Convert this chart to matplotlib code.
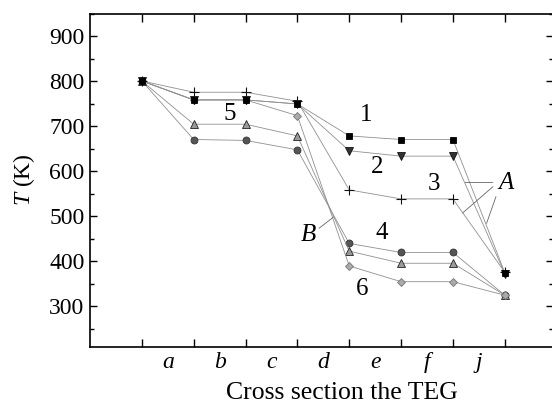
import numpy as np
import matplotlib
matplotlib.use('Agg')
import matplotlib.pyplot as plt
from matplotlib.ticker import MultipleLocator, FixedLocator

plt.rcParams['font.family'] = 'serif'
plt.rcParams['font.serif'] = ['Liberation Serif', 'DejaVu Serif']
plt.rcParams['mathtext.fontset'] = 'custom'
plt.rcParams['mathtext.rm'] = 'Liberation Serif'
plt.rcParams['mathtext.it'] = 'Liberation Serif:italic'

# cross-section positions and labels
x = [1, 2, 3, 4, 5, 6, 7, 8]
sections = ['a', 'b', 'c', 'd', 'e', 'f', 'j']

# temperatures (K)
t1 = [800, 758, 758, 749, 678, 670, 670, 374]
t2 = [800, 758, 758, 749, 645, 633, 633, 372]
t3 = [800, 775, 775, 755, 558, 538, 538, 375]
t4 = [800, 670, 668, 647, 439, 419, 419, 324]
t5 = [800, 704, 704, 678, 422, 395, 395, 324]
t6 = [800, 758, 758, 723, 389, 354, 354, 324]

fig = plt.figure(figsize=(5.52, 4.05), dpi=100)
ax = fig.add_axes([90/552, 1-346.5/405, 463/552, 333/405])

lc = '#909090'
lw = 0.6
ax.plot(x, t4, color=lc, lw=lw, marker='o', ms=5, mfc='#555555', mec='#333333', mew=0.6)
ax.plot(x, t5, color=lc, lw=lw, marker='^', ms=6, mfc='#9a9a9a', mec='#222222', mew=0.6)
ax.plot(x, t6, color=lc, lw=lw, marker='D', ms=4.5, mfc='#aaaaaa', mec='#777777', mew=0.6)
ax.plot(x, t3, color=lc, lw=lw, marker='+', ms=6.5, mfc='k', mec='#111111', mew=0.8)
ax.plot(x, t2, color=lc, lw=lw, marker='v', ms=6, mfc='#333333', mec='#111111', mew=0.6)
ax.plot(x, t1, color=lc, lw=lw, marker='s', ms=5, mfc='#000000', mec='#000000', mew=0.6)

# curve numbers
fs = 18
ax.text(5.32, 724, '1', fontsize=fs, ha='center', va='center')
ax.text(5.53, 608, '2', fontsize=fs, ha='center', va='center')
ax.text(6.64, 571, '3', fontsize=fs, ha='center', va='center')
ax.text(5.62, 462, '4', fontsize=fs, ha='center', va='center')
ax.text(2.69, 726, '5', fontsize=fs, ha='center', va='center')
ax.text(5.25, 337, '6', fontsize=fs, ha='center', va='center')

# A and B callouts
ax.text(8.02, 573, 'A', fontsize=fs, style='italic', ha='center', va='center')
ax.plot([7.75, 7.23], [576, 576], color='#666666', lw=0.6)
ax.plot([7.77, 7.19], [565, 507], color='#666666', lw=0.6)
ax.plot([7.83, 7.65], [543, 484], color='#666666', lw=0.6)
ax.text(4.21, 458, 'B', fontsize=fs, style='italic', ha='center', va='center')
ax.plot([4.42, 4.69], [473, 497], color='#666666', lw=0.6)

ax.set_xlim(0, 8.93)
ax.set_ylim(210, 950)

ax.xaxis.set_major_locator(FixedLocator(x))
ax.xaxis.set_minor_locator(FixedLocator([i + 0.5 for i in range(1, 8)]))
ax.set_xticklabels([''] * len(x))
ax.set_xticklabels(sections, minor=True, style='italic', fontsize=17)
ax.tick_params(axis='x', which='major', direction='in', length=6, width=1, top=True)
ax.tick_params(axis='x', which='minor', length=0, pad=4)

ax.yaxis.set_major_locator(MultipleLocator(100))
ax.yaxis.set_minor_locator(MultipleLocator(50))
ax.set_yticks(range(300, 1000, 100))
ax.tick_params(axis='y', which='major', direction='in', length=5, width=1, right=True, labelsize=17, pad=4)
ax.tick_params(axis='y', which='minor', direction='in', length=3, width=1, right=True)

for s in ax.spines.values():
    s.set_linewidth(1.2)

ax.set_xlabel('Cross section the TEG', fontsize=18.5)
ax.xaxis.set_label_coords(0.545, -0.108)
ax.set_ylabel(r'$\mathit{T}$ (K)', fontsize=17)
ax.yaxis.set_label_coords(-0.115, 0.5)

fig.savefig('out.png', dpi=100)
